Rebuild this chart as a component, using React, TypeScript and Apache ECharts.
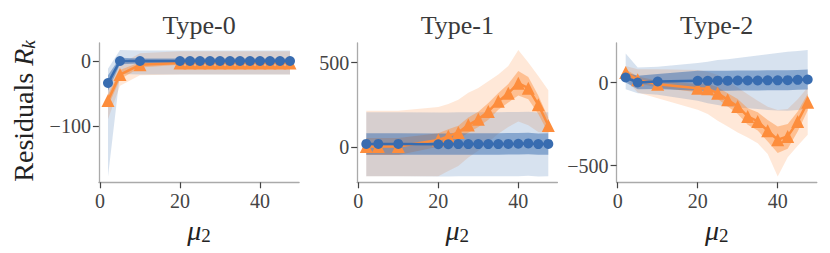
import React, { useEffect, useRef } from "react";
import * as echarts from "echarts";

const X = [2, 5, 10, 20, 22.5, 25, 27.5, 30, 32.5, 35, 37.5, 40, 42.5, 45, 47.5];
const TITLES = ["Type-0", "Type-1", "Type-2"];
const XTICKS = [0, 20, 40];
const YTICKS0 = [-100, 0];
const YTICKS1 = [0, 500];
const YTICKS2 = [-500, 0];

// Type-0
const blueMean0 = [-34, 0, 0, 0, 0, 0, 0, 0, 0, 0, 0, 0, 0, 0, 0];
const blueInLo0 = [-46, -5, -4, -4, -4, -4, -4, -4, -4, -4, -4, -4, -4, -4, -4];
const blueInHi0 = [-22, 5, 4, 4, 4, 4, 4, 4, 4, 4, 4, 4, 4, 4, 4];
const blueOutLo0 = [-178, -20, -21, -21, -21, -21, -21, -21, -21, -21, -21, -21, -21, -21, -21];
const blueOutHi0 = [-12, 17, 16, 16, 16, 16, 16, 16, 16, 16, 16, 16, 16, 16, 16];
const orMean0 = [-61, -21, -6, -3, -3, -3, -3, -3, -3, -3, -3, -3, -3, -3, -3];
const orInLo0 = [-70, -28, -10, -6, -6, -6, -6, -6, -6, -6, -6, -6, -6, -6, -6];
const orInHi0 = [-52, -14, -2, 0, 0, 0, 0, 0, 0, 0, 0, 0, 0, 0, 0];
const orOutLo0 = [-90, -38, -22, -21, -21, -21, -21, -21, -21, -21, -21, -21, -21, -21, -21];
const orOutHi0 = [-35, -5, 12, 15, 15, 15, 15, 15, 15, 15, 15, 15, 15, 15, 15];

// Type-1
const blueMean1 = [20, 20, 20, 18, 18, 19, 19, 19, 19, 19, 20, 21, 23, 19, 20];
const blueInLo1 = [-43, -43, -43, -44, -44, -43, -43, -43, -43, -43, -42, -42, -40, -44, -43];
const blueInHi1 = [83, 83, 83, 82, 82, 83, 83, 83, 83, 83, 84, 85, 86, 82, 83];
const blueOutLo1 = [-171, -171, -171, -172, -172, -171, -171, -171, -171, -171, -170, -170, -168, -172, -171];
const blueOutHi1 = [207, 207, 207, 206, 206, 207, 207, 207, 207, 207, 208, 209, 210, 206, 207];
const orMean1 = [5, 5, 5, 43, 66, 88, 131, 165, 212, 271, 319, 378, 349, 251, 129];
const orInLo1 = [-45, -45, -45, 3, 26, 48, 86, 120, 162, 221, 264, 306, 284, 196, 84];
const orInHi1 = [55, 55, 55, 83, 106, 128, 176, 210, 262, 321, 374, 450, 414, 306, 174];
const orOutLo1 = [-171, -171, -171, -171, -140, -110, -60, -20, 30, 80, 120, 153, 130, 90, 84];
const orOutHi1 = [215, 215, 215, 238, 255, 280, 322, 350, 390, 430, 480, 574, 500, 420, 337];

// Type-2
const blueMean2 = [30, 0, 6, 10, 10, 11, 11, 12, 12, 12, 13, 13, 14, 16, 18];
const blueInLo2 = [0, -40, -39, -50, -50, -49, -49, -48, -48, -48, -47, -47, -46, -44, -42];
const blueInHi2 = [60, 40, 51, 70, 70, 71, 71, 72, 72, 72, 73, 73, 74, 76, 78];
const blueOutLo2 = [-40, -64, -74, -110, -125, -135, -145, -150, -155, -160, -165, -168, -170, -165, -160];
const blueOutHi2 = [175, 90, 95, 118, 125, 135, 140, 148, 155, 162, 170, 178, 185, 190, 196];
const orMean2 = [60, 16, -10, -34, -38, -64, -104, -144, -204, -234, -290, -344, -324, -234, -118];
const orInLo2 = [40, -4, -30, -59, -68, -99, -144, -189, -254, -289, -355, -424, -399, -294, -168];
const orInHi2 = [80, 36, 10, -9, -8, -29, -64, -99, -154, -179, -225, -264, -249, -174, -68];
const orOutLo2 = [20, -60, -94, -164, -190, -230, -265, -300, -330, -365, -430, -565, -450, -380, -314];
const orOutHi2 = [100, 80, 80, 75, 65, 45, 10, -30, -70, -110, -145, -165, -160, -100, -30];

const BLUE = "#386cb0";
const ORANGE = "#fd8d3c";
const FONT = "'Liberation Serif', 'Times New Roman', serif";

function band(gi: number, lo: number[], hi: number[], fill: string, z: number) {
  return {
    type: "custom",
    xAxisIndex: gi,
    yAxisIndex: gi,
    silent: true,
    z,
    data: X.map((x, i) => [x, lo[i], hi[i]]),
    encode: { x: 0, y: [1, 2] },
    renderItem: (params: any, api: any) => {
      if (params.dataIndex !== 0) return null;
      const top = X.map((x, i) => api.coord([x, hi[i]]));
      const bot = X.map((x, i) => api.coord([x, lo[i]])).reverse();
      return { type: "polygon", shape: { points: top.concat(bot) }, style: { fill } };
    },
  };
}

function line(gi: number, ys: number[], color: string, symbol: string, size: number, z: number) {
  return {
    type: "line",
    xAxisIndex: gi,
    yAxisIndex: gi,
    data: X.map((x, i) => [x, ys[i]]),
    symbol,
    symbolSize: size,
    showSymbol: true,
    lineStyle: { color, width: 2.5 },
    itemStyle: { color, borderWidth: 0 },
    z,
  };
}

export default function App() {
  const ref = useRef<HTMLDivElement>(null);
  useEffect(() => {
    if (!ref.current) return;
    const chart = echarts.init(ref.current, null, { renderer: "svg" });
    const grids = [
      { left: 98.9, top: 43, width: 200.2, height: 139.3 },
      { left: 357.2, top: 43, width: 200.2, height: 139.3 },
      { left: 616.6, top: 43, width: 200.2, height: 139.3 },
    ];
    const yRanges = [
      [-187, 27.7],
      [-206, 615],
      [-600, 237.6],
    ];
    const yTicks = [YTICKS0, YTICKS1, YTICKS2];
    const axisCommon = {
      axisLine: { show: true, onZero: false, lineStyle: { color: "#aaaaaa", width: 1.3 } },
      axisTick: { show: true, inside: false, length: 6, lineStyle: { color: "#444444", width: 1.2 } },
      splitLine: { show: false },
    };
    const labelStyle = { color: "#444444", fontFamily: FONT, fontSize: 20 };
    const series: any[] = [];
    const data = [
      [blueMean0, blueInLo0, blueInHi0, blueOutLo0, blueOutHi0, orMean0, orInLo0, orInHi0, orOutLo0, orOutHi0],
      [blueMean1, blueInLo1, blueInHi1, blueOutLo1, blueOutHi1, orMean1, orInLo1, orInHi1, orOutLo1, orOutHi1],
      [blueMean2, blueInLo2, blueInHi2, blueOutLo2, blueOutHi2, orMean2, orInLo2, orInHi2, orOutLo2, orOutHi2],
    ];
    data.forEach((d, gi) => {
      const [bm, bil, bih, bol, boh, om, oil, oih, ool, ooh] = d;
      series.push(band(gi, ool, ooh, "rgba(253,141,60,0.2)", 1));
      series.push(band(gi, bol, boh, "rgba(56,108,176,0.2)", 1));
      series.push(band(gi, oil, oih, "rgba(253,141,60,0.45)", 1));
      series.push(band(gi, bil, bih, "rgba(56,108,176,0.5)", 1));
      series.push(line(gi, om, ORANGE, "triangle", 13, 3));
      series.push(line(gi, bm, BLUE, "circle", 10, 4));
    });
    const graphics: any[] = [];
    grids.forEach((g, gi) => {
      const cx = g.left + g.width / 2;
      graphics.push({
        type: "text",
        x: cx,
        y: 25,
        style: { text: TITLES[gi], fontFamily: FONT, fontSize: 26, fill: "#3a3a3a", align: "center", verticalAlign: "middle" },
      });
      graphics.push({
        type: "text",
        x: cx,
        y: 230,
        style: {
          text: "{a|μ}{b|2}",
          align: "center",
          verticalAlign: "middle",
          rich: {
            a: { fontFamily: FONT, fontStyle: "italic", fontSize: 28, fill: "#222222", lineHeight: 30 },
            b: { fontFamily: FONT, fontSize: 19, fill: "#222222", lineHeight: 14, verticalAlign: "bottom" },
          },
        },
      });
    });
    graphics.push({
      type: "text",
      x: 23,
      y: 111,
      rotation: Math.PI / 2,
      style: {
        text: "{a|Residuals }{i|R}{b|k}",
        align: "center",
        verticalAlign: "middle",
        rich: {
          a: { fontFamily: FONT, fontSize: 28, fill: "#222222", lineHeight: 30 },
          i: { fontFamily: FONT, fontStyle: "italic", fontSize: 28, fill: "#222222", lineHeight: 30 },
          b: { fontFamily: FONT, fontStyle: "italic", fontSize: 19, fill: "#222222", lineHeight: 14, verticalAlign: "bottom" },
        },
      },
    });
    chart.setOption({
      animation: false,
      backgroundColor: "#ffffff",
      grid: grids.map((g) => ({ ...g, containLabel: false })),
      xAxis: grids.map((_, gi) => ({
        type: "value",
        gridIndex: gi,
        min: -0.275,
        max: 49.775,
        ...axisCommon,
        axisTick: { ...axisCommon.axisTick, customValues: XTICKS },
        axisLabel: { ...labelStyle, margin: 9, customValues: XTICKS },
      })),
      yAxis: grids.map((_, gi) => ({
        type: "value",
        gridIndex: gi,
        min: yRanges[gi][0],
        max: yRanges[gi][1],
        ...axisCommon,
        axisTick: { ...axisCommon.axisTick, customValues: yTicks[gi] },
        axisLabel: { ...labelStyle, margin: 8, customValues: yTicks[gi], formatter: (v: number) => (v < 0 ? "\u2212" + Math.abs(v) : String(v)) },
      })),
      series,
      graphic: graphics,
    });
    return () => chart.dispose();
  }, []);
  return <div ref={ref} style={{ position: "fixed", left: 0, top: 0, width: 830, height: 253, background: "#fff" }} />;
}
